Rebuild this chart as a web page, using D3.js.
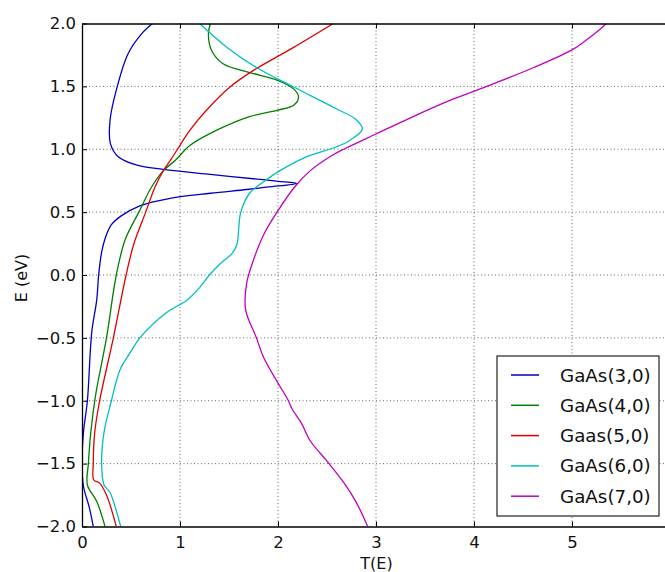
<!DOCTYPE html>
<html>
<head>
<meta charset="utf-8">
<script src="https://cdn.jsdelivr.net/npm/d3@7"></script>
<style>
  body{margin:0;background:#fff;}
  svg{display:block;font-family:"DejaVu Sans",sans-serif;}
  .grid line{stroke:#666;stroke-width:1;stroke-dasharray:1,2.5;}
  .curve{fill:none;stroke-width:1.3;}
</style>
</head>
<body>
<svg id="chart" width="665" height="572"></svg>
<script>
// transmission curves, each point is [E (eV), T(E)]
const gaas30=[[-2.0,0.115],[-1.85,0.075],[-1.68,0.015],[-1.5,0.0],[-1.25,0.015],[-1.0,0.055],[-0.45,0.1],[-0.2,0.15],[0.0,0.17],[0.18,0.2],[0.3,0.24],[0.4,0.3],[0.47,0.40],[0.55,0.59],[0.61,0.90],[0.65,1.31],[0.68,1.68],[0.70,1.9],[0.728,2.19],[0.745,2.0],[0.76,1.82],[0.80,1.31],[0.84,0.83],[0.873,0.56],[0.94,0.37],[1.045,0.29],[1.23,0.286],[1.5,0.36],[1.76,0.47],[1.92,0.61],[2.0,0.72]];
const gaas40=[[-2.0,0.235],[-1.8,0.15],[-1.67,0.055],[-1.5,0.065],[-1.25,0.09],[-0.95,0.14],[-0.5,0.25],[0.0,0.35],[0.28,0.44],[0.5,0.58],[0.70,0.71],[0.83,0.83],[0.91,0.95],[1.03,1.10],[1.15,1.37],[1.26,1.71],[1.31,1.99],[1.35,2.16],[1.415,2.21],[1.48,2.16],[1.55,1.99],[1.61,1.71],[1.68,1.44],[1.79,1.32],[1.92,1.29],[2.0,1.31]];
const gaas50=[[-2.0,0.35],[-1.75,0.25],[-1.655,0.18],[-1.63,0.12],[-1.5,0.115],[-1.25,0.13],[-1.0,0.18],[-0.5,0.32],[0.0,0.45],[0.25,0.53],[0.5,0.65],[0.70,0.745],[0.83,0.83],[0.91,0.90],[0.99,0.966],[1.15,1.10],[1.31,1.27],[1.495,1.51],[1.627,1.75],[1.81,2.16],[2.0,2.565]];
const gaas60=[[-2.0,0.395],[-1.85,0.34],[-1.73,0.286],[-1.67,0.225],[-1.5,0.2],[-1.25,0.225],[-1.0,0.30],[-0.75,0.39],[-0.62,0.49],[-0.5,0.59],[-0.3,0.86],[-0.2,1.07],[-0.1,1.2],[0.0,1.30],[0.09,1.41],[0.17,1.53],[0.24,1.58],[0.38,1.60],[0.5,1.62],[0.65,1.71],[0.74,1.85],[0.83,2.02],[0.94,2.29],[1.02,2.6],[1.07,2.73],[1.16,2.86],[1.24,2.79],[1.32,2.60],[1.495,2.16],[1.65,1.78],[1.81,1.48],[2.0,1.20]];
const gaas70=[[-2.0,2.915],[-1.81,2.80],[-1.65,2.67],[-1.48,2.50],[-1.32,2.33],[-1.18,2.24],[-1.06,2.14],[-0.99,2.10],[-0.86,2.00],[-0.65,1.85],[-0.5,1.78],[-0.278,1.67],[-0.066,1.68],[0.12,1.75],[0.33,1.86],[0.5,1.99],[0.70,2.17],[0.83,2.33],[0.95,2.55],[1.0,2.67],[1.125,3.01],[1.26,3.38],[1.39,3.76],[1.5,4.13],[1.65,4.61],[1.79,5.0],[1.87,5.15],[1.95,5.28],[2.0,5.35]];

const series_names=['GaAs(3,0)','GaAs(4,0)','Gaas(5,0)','GaAs(6,0)','GaAs(7,0)'];
const series_colors=['#0000bf','#007f00','#e00000','#00bfbf','#bf00bf'];
const x_ticks=[0,1,2,3,4,5,6];
const x_tick_labels=['0','1','2','3','4','5',''];
const y_ticks=[-2.0,-1.5,-1.0,-0.5,0.0,0.5,1.0,1.5,2.0];

const all_series=[gaas30,gaas40,gaas50,gaas60,gaas70];

const box={left:82,top:23.5,right:670,bot:526.5};

const svg=d3.select('#chart');

const x=d3.scaleLinear().domain([0,6]).range([box.left,box.right]);
const y=d3.scaleLinear().domain([-2,2]).range([box.bot,box.top]);

const fmt=d=>d3.format('.1f')(d).replace('-','\u2212');

// grid
const grid=svg.append('g').attr('class','grid');
grid.selectAll('.gx').data(x_ticks.slice(1,-1)).join('line')
    .attr('x1',d=>x(d)).attr('x2',d=>x(d))
    .attr('y1',box.top).attr('y2',box.bot);
grid.selectAll('.gy').data(y_ticks.slice(1,-1)).join('line')
    .attr('x1',box.left).attr('x2',box.right)
    .attr('y1',d=>y(d)).attr('y2',d=>y(d));

// curves
const line=d3.line()
    .x(d=>x(d[1]))
    .y(d=>y(d[0]))
    .curve(d3.curveCatmullRom.alpha(0.5));

svg.append('defs').append('clipPath').attr('id','clip')
    .append('rect').attr('x',box.left).attr('y',box.top)
    .attr('width',box.right-box.left).attr('height',box.bot-box.top);

svg.append('g').attr('clip-path','url(#clip)')
    .selectAll('path').data(all_series).join('path')
    .attr('class','curve')
    .attr('stroke',(d,i)=>series_colors[i])
    .attr('d',line);

// axes (ticks inside, like classic matplotlib)
const axis_b=svg.append('g').attr('transform',`translate(0,${box.bot})`)
    .call(d3.axisBottom(x).tickValues(x_ticks).tickFormat((d,i)=>x_tick_labels[i]).tickSizeInner(-5).tickSizeOuter(0).tickPadding(10));
const axis_t=svg.append('g').attr('transform',`translate(0,${box.top})`)
    .call(d3.axisTop(x).tickValues(x_ticks).tickFormat('').tickSizeInner(-5).tickSizeOuter(0));
const axis_l=svg.append('g').attr('transform',`translate(${box.left},0)`)
    .call(d3.axisLeft(y).tickValues(y_ticks).tickFormat(fmt).tickSizeInner(-5).tickSizeOuter(0).tickPadding(6));

[axis_b,axis_t,axis_l].forEach(a=>{
    a.select('.domain').attr('stroke','#000').attr('stroke-width',1.3);
    a.selectAll('.tick line').attr('stroke','#000');
    a.selectAll('.tick text').attr('font-size',16.5).attr('fill','#111').attr('font-family','"DejaVu Sans",sans-serif');
});

// axis labels
svg.append('text').attr('x',376.5).attr('y',569).attr('text-anchor','middle')
    .attr('font-size',16).attr('fill','#111').text('T(E)');
svg.append('text').attr('transform','translate(27,278) rotate(-90)').attr('text-anchor','middle')
    .attr('font-size',16).attr('fill','#111').text('E (eV)');

// legend
const legend=svg.append('g').attr('transform','translate(497,356)');
legend.append('rect').attr('width',162).attr('height',160)
    .attr('fill','#fff').attr('stroke','#222').attr('stroke-width',1.2);
const rows=legend.selectAll('g.row').data(series_names).join('g')
    .attr('transform',(d,i)=>`translate(0,${19+i*30.3})`);
rows.append('line').attr('x1',14).attr('x2',42).attr('y1',0).attr('y2',0)
    .attr('stroke',(d,i)=>series_colors[i]).attr('stroke-width',1.5);
rows.append('text').attr('x',63).attr('y',6.5).attr('font-size',18.3).attr('fill','#111').text(d=>d);
</script>
</body>
</html>
